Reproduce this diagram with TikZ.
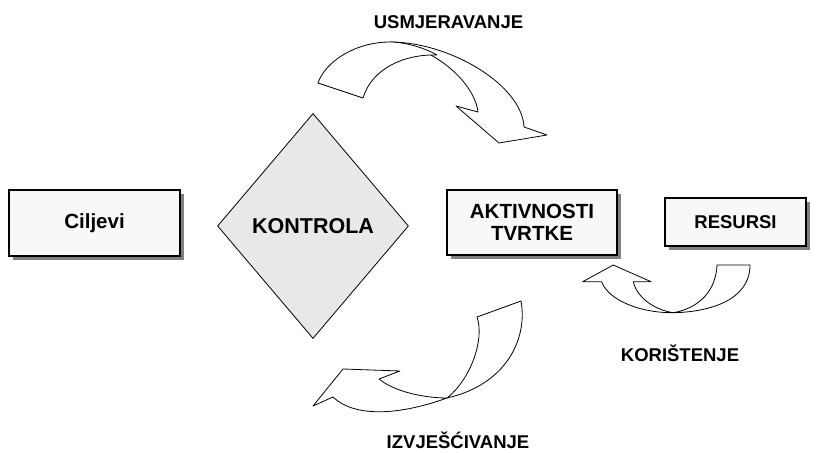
\documentclass[tikz,border=0pt]{standalone}
\usepackage{fontspec}
\setmainfont{Liberation Sans}
\usetikzlibrary{shapes.geometric,shadows}
\definecolor{boxfill}{HTML}{F8F8F8}
\definecolor{ctrlfill}{HTML}{E8E8E8}
\tikzset{
  box/.style={draw,line width=1.2pt,fill=boxfill,inner sep=0pt,align=center,
    drop shadow={shadow xshift=4pt,shadow yshift=-4pt,fill=black!50,opacity=1},
    font=\fontsize{20.5}{21.7}\selectfont\bfseries},
  ctrl/.style={diamond,draw,line width=0.8pt,fill=ctrlfill,inner sep=0pt,
    minimum width=191pt,minimum height=225pt,font=\fontsize{21.5}{24}\selectfont\bfseries},
  band/.style={draw,fill=white,line width=0.8pt,line join=round},
  lbl/.style={anchor=base,inner sep=0pt,font=\fontsize{18.5}{20}\selectfont\bfseries}
}
\begin{document}
\begin{tikzpicture}[x=1pt,y=-1pt]
        \useasboundingbox[fill=white](0,0)rectangle(818,452);
        \node[box,minimum width=171pt,minimum height=66pt](ciljevi)at(94.5,223){Ciljevi};
        \node[ctrl](kontrola)at(313,226){KONTROLA};
        \node[box,minimum width=170pt,minimum height=65pt](aktivnosti)at(532,222.5){AKTIVNOSTI\\TVRTKE};
        \node[box,minimum width=141pt,minimum height=48pt,font=\fontsize{18.5}{20}\selectfont\bfseries](resursi)at(735.5,222){RESURSI};
        % usmjeravanje
        \draw[band](390,42)..controls(450,42)and(522,85)..(524,127)
          --(547,135)--(499,143)--(456,106)--(478,112)
          ..controls(474,80)and(430,45)..(390,42);
        \draw[band](318,83)..controls(325,62)and(355,42)..(390,42)
          ..controls(405,42)and(425,48)..(437,55)
          ..controls(405,54)and(372,68)..(363,98)--cycle;
        % izvjescivanje
        \draw[band](477,317)--(521,301)..controls(528,340)and(505,385)..(447,398)
          ..controls(470,380)and(485,340)..(477,317)--cycle;
        \draw[band](447,398)..controls(400,415)and(355,418)..(333,397)
          --(313,406)--(343,369)--(400,371)--(379,379)
          ..controls(395,392)and(425,398)..(447,398)--cycle;
        % koristenje
        \draw[band](717,265)--(750,265)..controls(750,300)and(710,312)..(673.3,312.7)
          ..controls(700,308)and(716,290)..(717,265)--cycle;
        \draw[band](673.3,312.7)..controls(640,313)and(608,300)..(601.7,281.7)
          --(582.7,281.7)--(613.3,265)--(651,281.7)--(633.3,281.7)
          ..controls(637,298)and(655,310)..(673.3,312.7)--cycle;
        \node[lbl](usmj)at(448.5,28.3){USMJERAVANJE};
        \node[lbl](kori)at(680,361){KORIŠTENJE};
        \node[lbl](izvj)at(458,448){IZVJEŠĆIVANJE};
    \end{tikzpicture}
\end{document}
